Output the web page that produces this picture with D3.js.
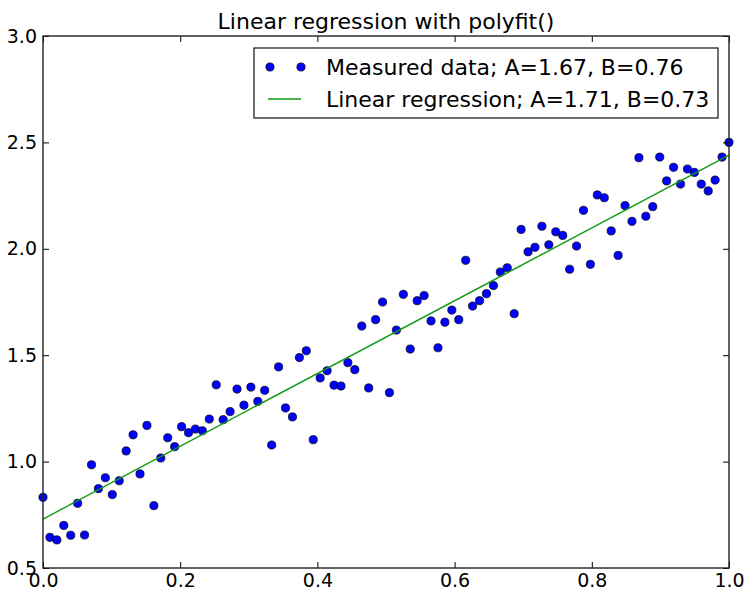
<!DOCTYPE html>
<html>
<head>
<meta charset="utf-8">
<script src="https://cdn.jsdelivr.net/npm/d3@7"></script>
<style>
  body { margin: 0; background: #fff; }
  text { font-family: "DejaVu Sans", sans-serif; fill: #000; }
</style>
</head>
<body>
<svg id="chart" width="744" height="591"></svg>
<script>
// ---- data ----
const title = "Linear regression with polyfit()";
const measuredY = [
  0.832, 0.644, 0.632, 0.700, 0.654, 0.804, 0.655, 0.985, 0.873, 0.924,
  0.845, 0.910, 1.050, 1.126, 0.942, 1.170, 0.793, 1.017, 1.112, 1.070,
  1.164, 1.136, 1.153, 1.145, 1.200, 1.361, 1.197, 1.235, 1.341, 1.265,
  1.350, 1.283, 1.335, 1.078, 1.445, 1.252, 1.210, 1.489, 1.521, 1.103,
  1.393, 1.427, 1.359, 1.355, 1.465, 1.432, 1.637, 1.346, 1.667, 1.750,
  1.324, 1.618, 1.786, 1.529, 1.756, 1.780, 1.661, 1.535, 1.655, 1.712,
  1.667, 1.946, 1.731, 1.756, 1.789, 1.827, 1.891, 1.911, 1.695, 2.091,
  1.986, 2.007, 2.106, 2.019, 2.080, 2.063, 1.904, 2.013, 2.181, 1.927,
  2.253, 2.240, 2.084, 1.969, 2.203, 2.129, 2.428, 2.153, 2.198, 2.431,
  2.319, 2.383, 2.304, 2.375, 2.359, 2.304, 2.272, 2.323, 2.431, 2.500
];
const measuredX = measuredY.map((_, i) => i / (measuredY.length - 1));
const fitParams = { A: 1.71, B: 0.73 };
const legendLabels = ["Measured data; A=1.67, B=0.76", "Linear regression; A=1.71, B=0.73"];
const xTicks = [0.0, 0.2, 0.4, 0.6, 0.8, 1.0];
const yTicks = [0.5, 1.0, 1.5, 2.0, 2.5, 3.0];

// ---- layout ----
const L = 43, R = 729, T = 36, B = 568;
const svg = d3.select("#chart");
const x = d3.scaleLinear().domain([0, 1]).range([L, R]);
const y = d3.scaleLinear().domain([0.5, 3.0]).range([B, T]);

// points
const pts = measuredX.map((xv, i) => ({ x: xv, y: measuredY[i] }));
svg.append("g").selectAll("circle").data(pts).join("circle")
  .attr("cx", d => x(d.x)).attr("cy", d => y(d.y)).attr("r", 4.1)
  .attr("fill", "#0000ff").attr("stroke", "#000").attr("stroke-width", 0.7);

// regression line
const fitLine = x.domain().map(xv => ({ x: xv, y: fitParams.A * xv + fitParams.B }));
svg.append("path").datum(fitLine)
  .attr("d", d3.line().x(d => x(d.x)).y(d => y(d.y)))
  .attr("fill", "none").attr("stroke", "#119a11").attr("stroke-width", 1.4);

// axes with inward ticks
const fmt = d3.format(".1f");
const tickLen = 6;
svg.append("g").attr("transform", `translate(0,${B})`)
  .call(d3.axisBottom(x).tickValues(xTicks).tickFormat(fmt).tickSizeInner(-tickLen).tickSizeOuter(0).tickPadding(6))
  .call(g => { g.select(".domain").remove(); g.selectAll("text").attr("font-size", 19).attr("font-family", "DejaVu Sans"); });
svg.append("g").attr("transform", `translate(0,${T})`)
  .call(d3.axisTop(x).tickValues(xTicks).tickFormat("").tickSizeInner(-tickLen).tickSizeOuter(0))
  .call(g => g.select(".domain").remove());
svg.append("g").attr("transform", `translate(${L},0)`)
  .call(d3.axisLeft(y).tickValues(yTicks).tickFormat(fmt).tickSizeInner(-tickLen).tickSizeOuter(0).tickPadding(6))
  .call(g => { g.select(".domain").remove(); g.selectAll("text").attr("font-size", 19).attr("font-family", "DejaVu Sans"); });
svg.append("g").attr("transform", `translate(${R},0)`)
  .call(d3.axisRight(y).tickValues(yTicks).tickFormat("").tickSizeInner(-tickLen).tickSizeOuter(0))
  .call(g => g.select(".domain").remove());

// frame
svg.append("rect").attr("x", L).attr("y", T).attr("width", R - L).attr("height", B - T)
  .attr("fill", "none").attr("stroke", "#222").attr("stroke-width", 1.4);

// title
svg.append("text").attr("x", (L + R) / 2).attr("y", 29).attr("text-anchor", "middle")
  .attr("font-size", 22).text(title);

// legend
const lg = svg.append("g");
lg.append("rect").attr("x", 254).attr("y", 48).attr("width", 464).attr("height", 70)
  .attr("fill", "#fff").attr("stroke", "#222").attr("stroke-width", 1.3);
[270, 301].forEach(cx => lg.append("circle").attr("cx", cx).attr("cy", 67).attr("r", 4.1)
  .attr("fill", "#0000ff").attr("stroke", "#000").attr("stroke-width", 0.7));
lg.append("line").attr("x1", 268).attr("x2", 301).attr("y1", 99).attr("y2", 99)
  .attr("stroke", "#119a11").attr("stroke-width", 1.4);
legendLabels.forEach((t, i) => lg.append("text").attr("x", 326).attr("y", 75 + i * 32)
  .attr("font-size", 22).text(t));
</script>
</body>
</html>
